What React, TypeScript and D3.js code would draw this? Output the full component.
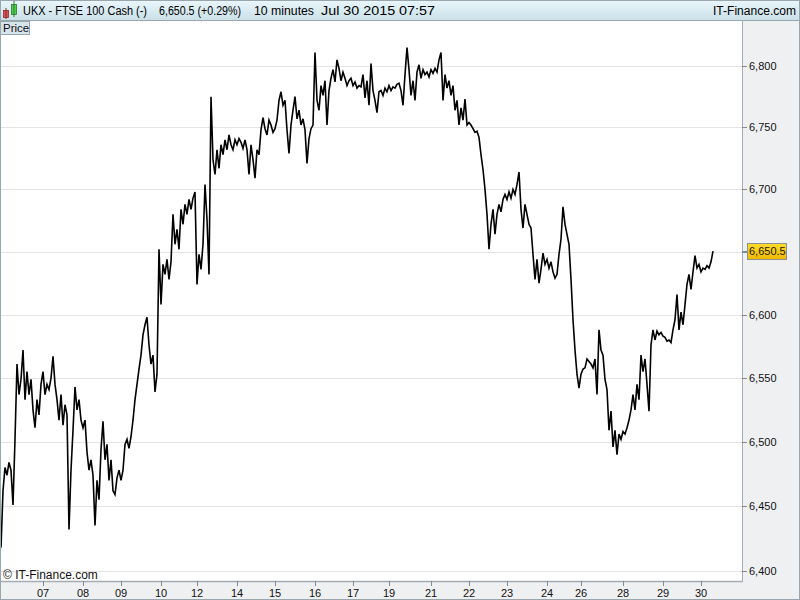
import React from "react";
import * as d3 from "d3";

// 10-minute closes, UKX FTSE 100 Cash, Jul 6 - Jul 30 2015
const closes: number[] = [
  6418, 6462, 6480, 6474, 6484, 6478, 6451, 6502, 6561, 6537, 6549, 6572, 6533, 6555, 6537, 6549,
  6525, 6511, 6533, 6521, 6545, 6555, 6537, 6545, 6541, 6550, 6567, 6545, 6533, 6517, 6537, 6513,
  6529, 6521, 6432, 6478, 6509, 6543, 6525, 6533, 6517, 6511, 6517, 6492, 6478, 6486, 6474, 6435,
  6470, 6455, 6494, 6516, 6486, 6498, 6470, 6486, 6462, 6459, 6472, 6478, 6470, 6478, 6498, 6502,
  6495, 6504, 6517, 6533, 6545, 6557, 6568, 6584, 6592, 6598, 6576, 6561, 6568, 6539, 6553, 6652,
  6608, 6640, 6632, 6644, 6628, 6642, 6680, 6656, 6668, 6652, 6684, 6672, 6688, 6680, 6692, 6684,
  6693, 6698, 6624, 6648, 6636, 6656, 6704, 6676, 6632, 6775, 6724, 6712, 6732, 6717, 6736, 6728,
  6740, 6732, 6744, 6736, 6732, 6740, 6736, 6741, 6738, 6733, 6740, 6732, 6712, 6736, 6724, 6709,
  6732, 6728, 6748, 6758, 6749, 6744, 6756, 6752, 6746, 6749, 6756, 6772, 6779, 6768, 6772, 6748,
  6729, 6752, 6764, 6775, 6757, 6764, 6752, 6757, 6748, 6721, 6741, 6749, 6752, 6811, 6772, 6764,
  6784, 6776, 6788, 6752, 6780, 6790, 6797, 6787, 6805, 6798, 6788, 6795, 6790, 6784, 6788, 6790,
  6784, 6787, 6782, 6784, 6783, 6793, 6774, 6788, 6768, 6802, 6780, 6772, 6762, 6779, 6780, 6776,
  6782, 6779, 6784, 6780, 6783, 6782, 6785, 6786, 6780, 6768, 6793, 6815, 6797, 6776, 6788, 6772,
  6795, 6801, 6790, 6797, 6793, 6795, 6791, 6797, 6794, 6798, 6795, 6805, 6811, 6772, 6793, 6782,
  6788, 6776, 6784, 6764, 6772, 6752, 6766, 6756, 6773, 6752, 6754, 6752, 6749, 6746, 6747, 6742,
  6728, 6716, 6700, 6680, 6652, 6672, 6684, 6664, 6680, 6688, 6682, 6692, 6696, 6692, 6698, 6693,
  6700, 6696, 6704, 6714, 6684, 6669, 6688, 6680, 6672, 6669, 6648, 6628, 6644, 6625, 6636, 6649,
  6640, 6644, 6637, 6642, 6634, 6629, 6632, 6648, 6660, 6686, 6672, 6664, 6656, 6628, 6596, 6572,
  6553, 6542, 6553, 6557, 6558, 6565, 6563, 6561, 6558, 6565, 6537, 6588, 6572, 6568, 6549, 6541,
  6509, 6524, 6496, 6509, 6490, 6506, 6502, 6508, 6506, 6511, 6517, 6525, 6537, 6525, 6545, 6533,
  6568, 6555, 6565, 6545, 6524, 6576, 6588, 6580, 6587, 6584, 6586, 6583, 6582, 6579, 6580, 6578,
  6588, 6596, 6616, 6588, 6602, 6592, 6608, 6624, 6632, 6620, 6634, 6647, 6637, 6640, 6634, 6637,
  6636, 6639, 6637, 6642, 6650.5,
];

const dayLabels: string[] = ["07", "08", "09", "10", "12", "14", "15", "16", "17", "19", "21", "22", "23", "24", "26", "28", "29", "30"];
const dayStartIndex: number[] = [21, 41, 60, 80, 98, 118, 137, 157, 176, 194, 215, 234, 253, 273, 290, 311, 331, 350];
const priceTicks: number[] = [6400, 6450, 6500, 6550, 6600, 6650, 6700, 6750, 6800];

const W = 800;
const H = 600;
const plotLeft = 0;
const plotRight = 742;
const plotTop = 21;
const plotBottom = 581;

export default function App() {
  const x = d3.scaleLinear().domain([0, closes.length - 1]).range([1, 713]);
  const y = d3.scaleLog().domain([6400, 6800]).range([571, 66]);
  const line = d3
    .line<number>()
    .x((_, i) => x(i))
    .y((d) => y(d));
  const fmt = d3.format(",");
  const last = closes[closes.length - 1];
  const lastY = y(last);
  const font = "'Liberation Sans', Arial, sans-serif";

  return (
    <svg
      width={W}
      height={H}
      style={{ position: "absolute", left: 0, top: 0, display: "block" }}
      fontFamily={font}
    >
      <defs>
        <linearGradient id="hdr" x1="0" y1="0" x2="0" y2="1">
          <stop offset="0" stopColor="#eaf7fc" />
          <stop offset="1" stopColor="#cbe0e8" />
        </linearGradient>
        <linearGradient id="gold" x1="0" y1="0" x2="0" y2="1">
          <stop offset="0" stopColor="#ffdc2a" />
          <stop offset="1" stopColor="#eeb800" />
        </linearGradient>
        <clipPath id="plotClip">
          <rect x={plotLeft} y={plotTop} width={plotRight - plotLeft} height={plotBottom - plotTop} />
        </clipPath>
      </defs>

      <rect x={0} y={0} width={W} height={H} fill="#eff0f2" />
      {/* plot area */}
      <rect x={plotLeft} y={plotTop} width={plotRight - plotLeft} height={plotBottom - plotTop} fill="#ffffff" />

      {/* gridlines */}
      {priceTicks.map((t) => (
        <line key={t} x1={plotLeft} x2={plotRight} y1={Math.round(y(t)) + 0.5} y2={Math.round(y(t)) + 0.5} stroke="#e3e3e3" strokeWidth={1} />
      ))}

      {/* price line */}
      <g clipPath="url(#plotClip)">
        <path d={line(closes) || ""} fill="none" stroke="#000000" strokeWidth={1.6} strokeLinejoin="miter" />
      </g>

      {/* copyright */}
      <text x={3} y={579} fontSize={12} fill="#111">© IT-Finance.com</text>

      {/* borders */}
      <line x1={plotRight + 0.5} x2={plotRight + 0.5} y1={plotTop} y2={plotBottom} stroke="#a3adb5" strokeWidth={1} />
      <line x1={0} x2={plotRight + 1} y1={plotBottom + 0.5} y2={plotBottom + 0.5} stroke="#a3adb5" strokeWidth={1.5} />
      <line x1={0.5} x2={0.5} y1={plotTop} y2={plotBottom} stroke="#a3adb5" strokeWidth={1} />

      {/* right axis */}
      {priceTicks.map((t) => (
        <g key={"yt" + t}>
          <line x1={plotRight} x2={plotRight + 5} y1={Math.round(y(t)) + 0.5} y2={Math.round(y(t)) + 0.5} stroke="#7f8a92" />
          {Math.abs(y(t) - lastY) > 12 ? (
            <text x={749} y={y(t) + 4} fontSize={11} fill="#111">{fmt(t)}</text>
          ) : null}
        </g>
      ))}

      {/* last value label */}
      <line x1={plotRight} x2={plotRight + 5} y1={Math.round(lastY) + 0.5} y2={Math.round(lastY) + 0.5} stroke="#7f8a92" />
      <rect x={747.5} y={Math.round(lastY) - 8 + 0.5} width={39} height={16} fill="url(#gold)" stroke="#8c8f93" />
      <text x={749} y={lastY + 4} fontSize={11} fill="#1a1a00">{d3.format(",.1f")(last)}</text>

      {/* bottom axis */}
      {dayStartIndex.map((d, i) => (
        <g key={"xt" + i}>
          <line x1={Math.round(x(d)) + 0.5} x2={Math.round(x(d)) + 0.5} y1={plotBottom} y2={plotBottom + 5} stroke="#7f8a92" />
          <text x={x(d)} y={597} fontSize={11} textAnchor="middle" fill="#111">{dayLabels[i]}</text>
        </g>
      ))}

      {/* header */}
      <rect x={0} y={0} width={W} height={20} fill="url(#hdr)" />
      <line x1={0} x2={W} y1={20.5} y2={20.5} stroke="#9aa6ae" />
      <rect x={3.5} y={10.5} width={5} height={7} fill="#e05050" stroke="#8a3030" strokeWidth={0.8} />
      <line x1={6} x2={6} y1={8} y2={19} stroke="#8a3030" strokeWidth={1} />
      <rect x={11.5} y={4.5} width={5} height={10} fill="#50d050" stroke="#2a7a2a" strokeWidth={0.8} />
      <line x1={14} x2={14} y1={1} y2={17} stroke="#2a7a2a" strokeWidth={1} />
      <text x={23} y={15} fontSize={12} fill="#000" textLength={124} lengthAdjust="spacingAndGlyphs">UKX - FTSE 100 Cash (-)</text>
      <text x={159} y={15} fontSize={12} fill="#000" textLength={82} lengthAdjust="spacingAndGlyphs">6,650.5 (+0.29%)</text>
      <text x={254} y={15} fontSize={12} fill="#000" textLength={60} lengthAdjust="spacingAndGlyphs">10 minutes</text>
      <text x={321} y={15} fontSize={12} fill="#000" textLength={114} lengthAdjust="spacingAndGlyphs">Jul 30 2015 07:57</text>
      <text x={713} y={15} fontSize={12} fill="#000" textLength={83} lengthAdjust="spacingAndGlyphs">IT-Finance.com</text>

      {/* Price tab */}
      <rect x={0.5} y={21.5} width={29} height={13} fill="#d6e4ec" stroke="#9aa6ae" />
      <text x={3} y={32} fontSize={11.5} fill="#111">Price</text>

      {/* outer frame */}
      <rect x={0.5} y={0.5} width={W - 1} height={H - 1} fill="none" stroke="#9aa6ae" />
    </svg>
  );
}
